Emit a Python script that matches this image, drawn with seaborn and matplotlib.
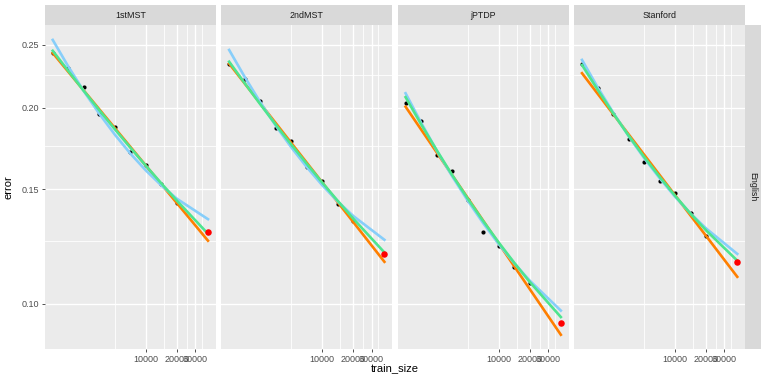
import pandas as pd
import seaborn as sns
import matplotlib.pyplot as plt
from matplotlib.patches import Rectangle
from matplotlib.ticker import NullFormatter

parsers = ["1stMST", "2ndMST", "jPTDP", "Stanford"]
train_sizes = [1250, 1770, 2500, 3540, 5000, 7070, 10000, 14140, 20000]
full_size = 40000
fit_sizes = train_sizes + [full_size]

# observed error on the subsampled training sets
err_1stmst = [0.2428, 0.2302, 0.2155, 0.1958, 0.1868, 0.1710, 0.1635, 0.1526, 0.1429]
err_2ndmst = [0.2338, 0.2214, 0.2051, 0.1863, 0.1780, 0.1624, 0.1545, 0.1426, 0.1340]
err_jptdp = [0.2038, 0.1912, 0.1695, 0.1599, 0.1444, 0.1287, 0.1227, 0.1137, 0.1075]
err_stanford = [0.2338, 0.2150, 0.1956, 0.1790, 0.1654, 0.1545, 0.1482, 0.1381, 0.1271]
# error with the full training set (red points)
full_err = [0.1288, 0.1194, 0.0934, 0.1159]

# power-law fit: a straight line in log-log, so the two ends are enough
power_1stmst = [0.2430, 0.1250]
power_2ndmst = [0.2340, 0.1160]
power_jptdp = [0.2009, 0.0896]
power_stanford = [0.2262, 0.1100]

# the two curved fits, read at fit_sizes
green_1stmst = [0.2449, 0.2280, 0.2125, 0.1984, 0.1855, 0.1738, 0.1630, 0.1531, 0.1440, 0.1281]
green_2ndmst = [0.2356, 0.2183, 0.2027, 0.1885, 0.1757, 0.1641, 0.1535, 0.1439, 0.1351, 0.1199]
green_jptdp = [0.2078, 0.1887, 0.1723, 0.1577, 0.1451, 0.1340, 0.1242, 0.1156, 0.1080, 0.0954]
green_stanford = [0.2329, 0.2134, 0.1964, 0.1813, 0.1682, 0.1567, 0.1465, 0.1375, 0.1296, 0.1165]

blue_1stmst = [0.2545, 0.2316, 0.2123, 0.1959, 0.1820, 0.1702, 0.1603, 0.1520, 0.1450, 0.1349]
blue_2ndmst = [0.2456, 0.2232, 0.2042, 0.1878, 0.1740, 0.1622, 0.1521, 0.1436, 0.1364, 0.1254]
blue_jptdp = [0.2107, 0.1898, 0.1721, 0.1570, 0.1441, 0.1330, 0.1235, 0.1154, 0.1085, 0.0976]
blue_stanford = [0.2371, 0.2153, 0.1969, 0.1810, 0.1675, 0.1560, 0.1460, 0.1376, 0.1305, 0.1193]

errs = [err_1stmst, err_2ndmst, err_jptdp, err_stanford]
powers = [power_1stmst, power_2ndmst, power_jptdp, power_stanford]
greens = [green_1stmst, green_2ndmst, green_jptdp, green_stanford]
blues = [blue_1stmst, blue_2ndmst, blue_jptdp, blue_stanford]

rows, fit_rows, full_rows = [], [], []
for p, e, pw, gr, bl, fe in zip(parsers, errs, powers, greens, blues, full_err):
    for n, v in zip(train_sizes, e):
        rows.append((p, n, v))
    for n, v in zip([train_sizes[0], full_size], pw):
        fit_rows.append((p, "power", n, v))
    for n, v in zip(fit_sizes, bl):
        fit_rows.append((p, "blue", n, v))
    for n, v in zip(fit_sizes, gr):
        fit_rows.append((p, "green", n, v))
    full_rows.append((p, full_size, fe))

pts = pd.DataFrame(rows, columns=["parser", "train_size", "error"])
fits = pd.DataFrame(fit_rows, columns=["parser", "model", "train_size", "error"])
full = pd.DataFrame(full_rows, columns=["parser", "train_size", "error"])

plt.rcParams["font.family"] = ["Liberation Sans", "DejaVu Sans"]
pal = {"power": "#FF7F00", "blue": "#87CEFA", "green": "#4EE58F"}

g = sns.FacetGrid(pts, col="parser", col_order=parsers, sharex=True, sharey=True,
                  height=3.2, aspect=0.55, despine=False)
g.set(xscale="log", yscale="log")
g.map_dataframe(sns.scatterplot, x="train_size", y="error", color="black", s=9, linewidth=0, zorder=3)

for i, (name, ax) in enumerate(g.axes_dict.items()):
    sub = fits[fits.parser == name]
    sns.lineplot(data=sub, x="train_size", y="error", hue="model", hue_order=["power", "blue", "green"],
                 palette=pal, estimator=None, sort=True, linewidth=1.9, legend=False, ax=ax, zorder=4)
    sns.scatterplot(data=full[full.parser == name], x="train_size", y="error", color="red",
                    s=22, linewidth=0, ax=ax, zorder=5)
    ax.set_facecolor("#EBEBEB")
    for s in ax.spines.values():
        s.set_visible(False)
    ax.set_xlim(1052, 47540)
    ax.set_ylim(0.0851, 0.2683)
    ax.set_xticks([10000, 20000, 30000], labels=["10000", "20000", "30000"])
    ax.set_xticks([5000, 15000, 25000, 35000], minor=True)
    ax.set_yticks([0.10, 0.15, 0.20, 0.25], labels=["0.10", "0.15", "0.20", "0.25"])
    ax.set_yticks([0.125, 0.175, 0.225], minor=True)
    ax.xaxis.set_minor_formatter(NullFormatter())
    ax.yaxis.set_minor_formatter(NullFormatter())
    ax.grid(which="major", color="white", linewidth=1.0)
    ax.grid(which="minor", color="white", linewidth=0.6)
    ax.set_axisbelow(True)
    ax.tick_params(which="major", length=2.5, width=0.6, color="#333333",
                   labelsize=6.5, labelcolor="#4D4D4D", pad=1.5)
    ax.tick_params(which="minor", length=0)
    if i > 0:
        ax.tick_params(axis="y", left=False, labelleft=False)
    ax.set_xlabel("")
    ax.set_ylabel("")
    ax.set_title("")
    h = 20 / 324.3
    ax.add_patch(Rectangle((0, 1), 1, h, transform=ax.transAxes, facecolor="#D9D9D9",
                           edgecolor="none", clip_on=False))
    ax.text(0.5, 1 + h / 2, name, transform=ax.transAxes, ha="center", va="center",
            fontsize=6.4, color="#1A1A1A")
    if i == len(parsers) - 1:
        w = 16 / 170.7
        ax.add_patch(Rectangle((1, 0), w, 1, transform=ax.transAxes, facecolor="#D9D9D9",
                               edgecolor="none", clip_on=False))
        ax.text(1 + w / 2, 0.5, "English", transform=ax.transAxes, ha="center", va="center",
                rotation=-90, fontsize=6.4, color="#1A1A1A")

fig = g.figure
fig.set_size_inches(7.61, 3.78)
fig.subplots_adjust(left=45 / 761, right=745 / 761, top=1 - 25 / 378, bottom=1 - 349.3 / 378,
                    wspace=5.7 / 170.7)
fig.text(395 / 761, 1 - 368 / 378, "train_size", ha="center", va="center", fontsize=8)
fig.text(8 / 761, 1 - 187 / 378, "error", ha="center", va="center", rotation=90, fontsize=8)
fig.savefig("out.png", dpi=100)
